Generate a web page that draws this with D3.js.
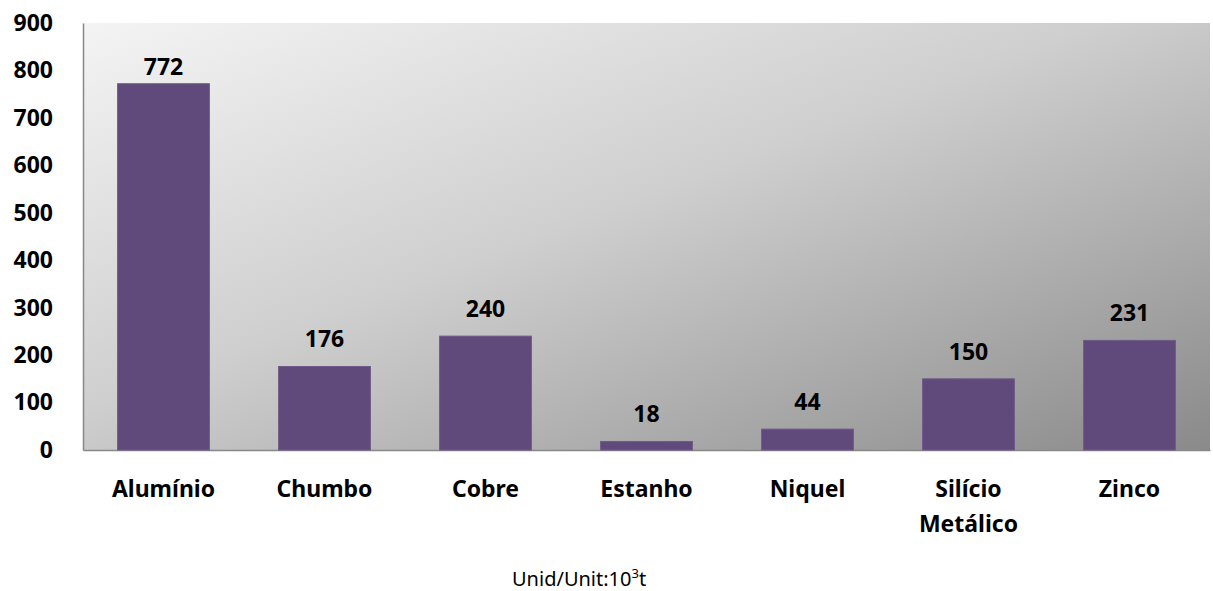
<!DOCTYPE html>
<html>
<head>
<meta charset="utf-8">
<script src="https://cdn.jsdelivr.net/npm/d3@7"></script>
<style>
  body { margin: 0; background: #fff; }
  text { font-family: "Noto Sans", "Open Sans", sans-serif; }
</style>
</head>
<body>
<div id="chart"></div>
<script>
var categories = ["Alumínio", "Chumbo", "Cobre", "Estanho", "Niquel", "Silício Metálico", "Zinco"];
var values = [772, 176, 240, 18, 44, 150, 231];
var yTicks = [0, 100, 200, 300, 400, 500, 600, 700, 800, 900];

var svgWidth = 1213;
var svgHeight = 591;
var margin = { top: 23, right: 3, bottom: 141, left: 83 };
var width = svgWidth - margin.left - margin.right;
var height = svgHeight - margin.top - margin.bottom;

var svg = d3.select("#chart").append("svg")
  .attr("width", svgWidth)
  .attr("height", svgHeight);

// background gradient of the plot area
var grad = svg.append("defs").append("linearGradient")
  .attr("id", "bg")
  .attr("x1", "0%").attr("y1", "0%")
  .attr("x2", "100%").attr("y2", "100%");
grad.append("stop").attr("offset", "0%").attr("stop-color", "#f4f4f4");
grad.append("stop").attr("offset", "45%").attr("stop-color", "#cfcfcf");
grad.append("stop").attr("offset", "100%").attr("stop-color", "#8a8a8a");

var chartGroup = svg.append("g")
  .attr("transform", `translate(${margin.left}, ${margin.top})`);

chartGroup.append("rect")
  .attr("width", width)
  .attr("height", height)
  .attr("fill", "url(#bg)");

var x = d3.scaleBand()
  .domain(categories)
  .range([0, width])
  .paddingInner(0.43)
  .paddingOuter(0.215);

var y = d3.scaleLinear()
  .domain([0, 900])
  .range([height, 0]);

// y axis
var leftAxis = d3.axisLeft(y).tickValues(yTicks).tickSize(0);
var yAxis = chartGroup.append("g").call(leftAxis);
yAxis.select(".domain").attr("stroke", "#888").attr("stroke-width", 1.5);
yAxis.selectAll("text")
  .attr("font-size", "23px")
  .attr("font-weight", "bold")
  .attr("fill", "#000")
  .style("text-anchor", "end")
  .attr("x", -30);

// x axis
var bottomAxis = d3.axisBottom(x).tickSize(0).tickFormat("");
var xAxis = chartGroup.append("g")
  .attr("transform", `translate(0, ${height})`)
  .call(bottomAxis);
xAxis.select(".domain").attr("stroke", "#888").attr("stroke-width", 1.5);

// bars
chartGroup.selectAll(".bar")
  .data(values)
  .enter()
  .append("rect")
  .attr("class", "bar")
  .attr("x", (d, i) => x(categories[i]))
  .attr("y", d => y(d))
  .attr("width", x.bandwidth())
  .attr("height", d => height - y(d))
  .attr("fill", "#604a7b")
  .attr("stroke", "#6e5a88")
  .attr("stroke-width", 1);

// value labels (kept below a top limit, like the original)
chartGroup.selectAll(".val")
  .data(values)
  .enter()
  .append("text")
  .attr("class", "val")
  .attr("x", (d, i) => x(categories[i]) + x.bandwidth() / 2)
  .attr("y", d => Math.max(y(d) - 19, 52))
  .attr("text-anchor", "middle")
  .attr("font-size", "23px")
  .attr("font-weight", "bold")
  .attr("fill", "#000")
  .text(d => d);

// category labels
chartGroup.selectAll(".cat")
  .data(categories)
  .enter()
  .append("text")
  .attr("class", "cat")
  .attr("x", d => x(d) + x.bandwidth() / 2)
  .attr("y", height + 47)
  .attr("text-anchor", "middle")
  .attr("font-size", "23px")
  .attr("font-weight", "bold")
  .attr("fill", "#000")
  .each(function (d) {
    var words = d.split(" ");
    var t = d3.select(this);
    words.forEach(function (w, i) {
      t.append("tspan")
        .attr("x", x(d) + x.bandwidth() / 2)
        .attr("dy", i === 0 ? 0 : 35)
        .text(w);
    });
  });

// unit note
var unit = svg.append("text")
  .attr("x", 512)
  .attr("y", 586)
  .attr("font-size", "20px")
  .attr("fill", "#000");
unit.append("tspan").text("Unid/Unit:10");
unit.append("tspan").attr("dy", -8).attr("font-size", "13px").text("3");
unit.append("tspan").attr("dy", 8).text("t");
</script>
</body>
</html>
